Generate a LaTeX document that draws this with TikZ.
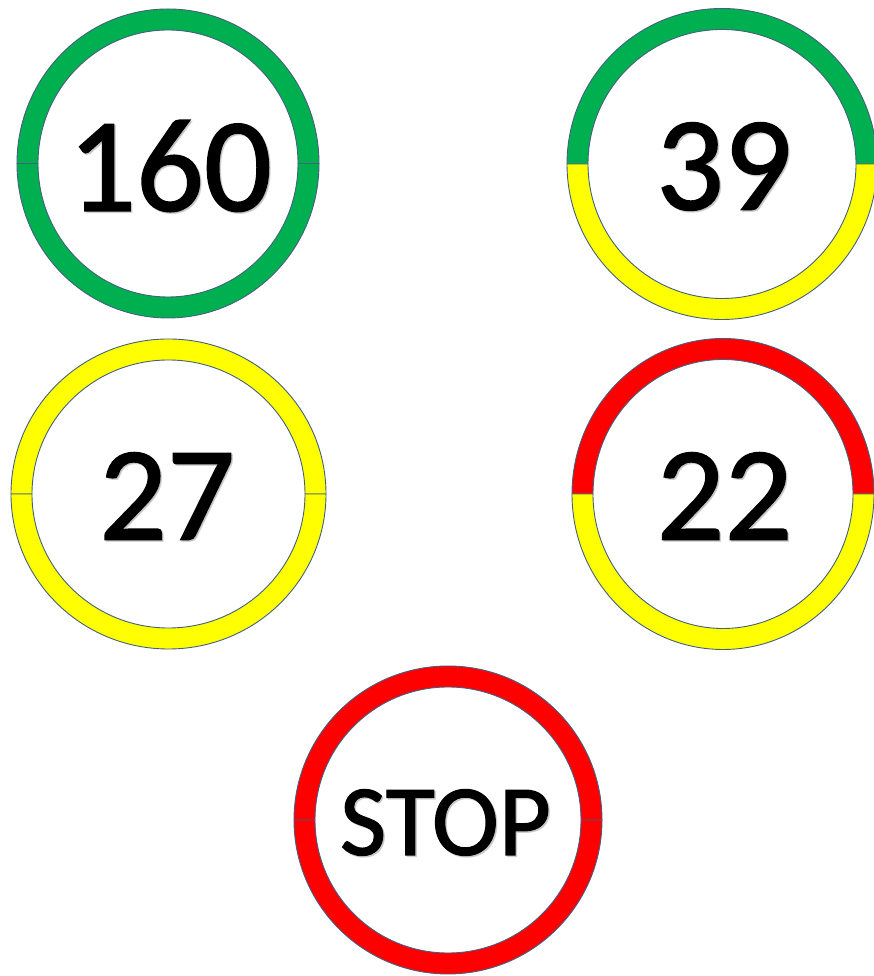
\documentclass[tikz,border=0pt]{standalone}
\usepackage{fontspec}
\setmainfont{Carlito}
\newfontfamily\signfont[FakeBold=1.2]{Carlito}
\definecolor{sgreen}{HTML}{00B050}
\definecolor{syellow}{HTML}{FFFF00}
\definecolor{sred}{HTML}{FF0000}
\definecolor{sedge}{HTML}{44607F}
\tikzset{
  ringedge/.style={draw=sedge, line width=0.9pt, line join=round},
  bigtext/.style={font=\signfont\fontsize{134}{134}\selectfont, text=black, inner sep=0pt},
  stoptext/.style={font=\signfont\fontsize{101}{101}\selectfont, text=black, inner sep=0pt},
  shadowtext/.style={text=black!35, opacity=0.45}
}
% #1 cx, #2 cy, #3 Rx, #4 Ry, #5 top colour, #6 bottom colour
\newcommand\trafficring[6]{%
  \pgfmathsetmacro\rix{#3-21}\pgfmathsetmacro\riy{#4-21}%
  \path[ringedge, fill=#5] (#1-#3,#2) arc[start angle=180, end angle=0, x radius=#3, y radius=#4]
    -- (#1+\rix,#2) arc[start angle=0, end angle=180, x radius=\rix, y radius=\riy] -- cycle;
  \path[ringedge, fill=#6] (#1-#3,#2) arc[start angle=180, end angle=360, x radius=#3, y radius=#4]
    -- (#1+\rix,#2) arc[start angle=360, end angle=180, x radius=\rix, y radius=\riy] -- cycle;
}
\begin{document}
\begin{tikzpicture}[x=1pt, y=1pt]
\useasboundingbox (0,0) rectangle (874,976);
\clip (0,0) rectangle (874,976);
\fill[white] (0,0) rectangle (874,976);
\trafficring{168}{812.5}{151}{154.5}{sgreen}{sgreen}
\trafficring{722}{812}{155}{155.5}{sgreen}{syellow}
\trafficring{168.5}{482}{157.5}{155}{syellow}{syellow}
\trafficring{723}{482}{151}{155.5}{sred}{syellow}
\trafficring{448}{156}{154}{154}{sred}{sred}
% shadows
\node[bigtext, shadowtext] at (171.5,808.5) {160};
\node[bigtext, shadowtext] at (725.5,808) {39};
\node[bigtext, shadowtext] at (168.5,478.5) {27};
\node[bigtext, shadowtext] at (726,478.5) {22};
\node[stoptext, shadowtext] at (447,152) {STOP};
% texts
\node[bigtext] (t160) at (170,810) {160};
\node[bigtext] (t39) at (724,809.5) {39};
\node[bigtext] (t27) at (167,480) {27};
\node[bigtext] (t22) at (724.5,480) {22};
\node[stoptext] (tstop) at (445.5,153.5) {STOP};
\end{tikzpicture}
\end{document}
